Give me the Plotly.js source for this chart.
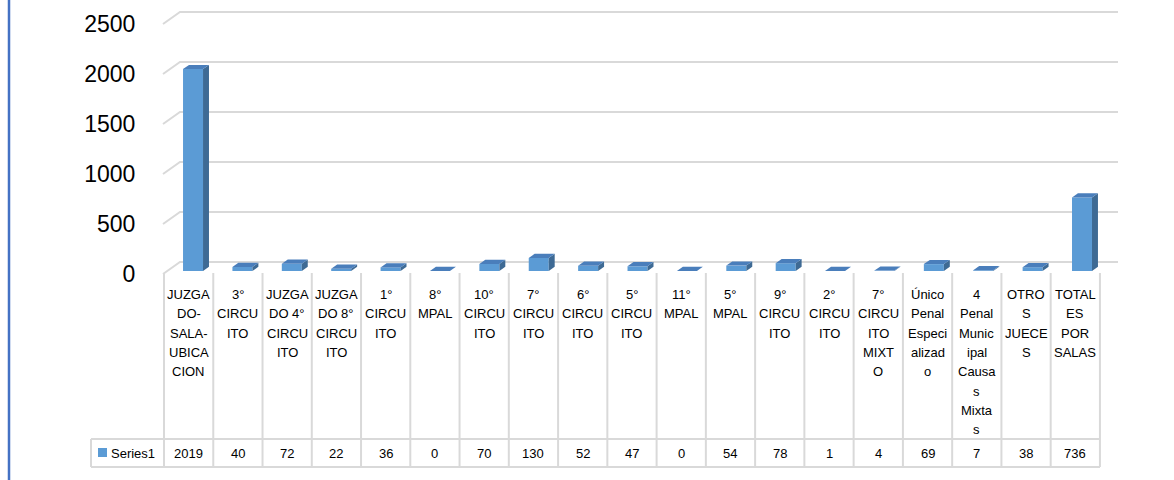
<!DOCTYPE html>
<html>
<head>
<meta charset="utf-8">
<script src="https://cdn.plot.ly/plotly-3.0.1.min.js"></script>
<style>html,body{margin:0;padding:0;background:#fff;}#chart{width:1174px;height:480px;}</style>
</head>
<body>
<div id="chart"></div>
<script>
// ---- data ----
const categories = [
  "JUZGA<br>DO-<br>SALA-<br>UBICA<br>CION",
  "3°<br>CIRCU<br>ITO",
  "JUZGA<br>DO 4°<br>CIRCU<br>ITO",
  "JUZGA<br>DO 8°<br>CIRCU<br>ITO",
  "1°<br>CIRCU<br>ITO",
  "8°<br>MPAL",
  "10°<br>CIRCU<br>ITO",
  "7°<br>CIRCU<br>ITO",
  "6°<br>CIRCU<br>ITO",
  "5°<br>CIRCU<br>ITO",
  "11°<br>MPAL",
  "5°<br>MPAL",
  "9°<br>CIRCU<br>ITO",
  "2°<br>CIRCU<br>ITO",
  "7°<br>CIRCU<br>ITO<br>MIXT<br>O",
  "Único<br>Penal<br>Especi<br>alizad<br>o",
  "4<br>Penal<br>Munic<br>ipal<br>Causa<br>s<br>Mixta<br>s",
  "OTRO<br>S<br>JUECE<br>S",
  "TOTAL<br>ES<br>POR<br>SALAS"
];
const values = [2019, 40, 72, 22, 36, 0, 70, 130, 52, 47, 0, 54, 78, 1, 4, 69, 7, 38, 736];
const seriesName = "Series1";
const yTicks = [0, 500, 1000, 1500, 2000, 2500];

// ---- geometry / style ----
const W = 1174, H = 480;
const ML = 80, MR = 40, MT = 5, MB = 5;
const plotW = W - ML - MR, plotH = H - MT - MB;
const COL_PX = 49.26;            // px per category
const COL0_LEFT = 164;           // px of first column left edge
const FLOOR_PX = 274;            // px of value 0 on front edge
const UNITS_PER_PX = 10;         // value units per px
const xMin = -0.5 - (COL0_LEFT - ML) / COL_PX;
const xMax = xMin + plotW / COL_PX;
const yMax = (FLOOR_PX - MT) * UNITS_PER_PX;
const yMin = yMax - plotH * UNITS_PER_PX;
const X = px => -0.5 + (px - COL0_LEFT) / COL_PX;          // px -> x data
const Y = py => (FLOOR_PX - py) * UNITS_PER_PX;            // px -> y data
const dX = px => px / COL_PX;
const dY = py => py * UNITS_PER_PX;
const PX = px => (px - ML) / plotW;                        // px -> paper x
const PY = py => (H - MB - py) / plotH;                    // px -> paper y

const WALL_DX = 17, WALL_DY = 12;      // depth of floor in px
const BAR_FRONT = 0.25, BAR_BACK = 0.6; // depth fractions
const BAR_W = 20;                       // px
const FRONT = '#5B9BD5', TOP = '#4A7EBB', SIDE = '#3E6A94';
const GRID = '#D9D9D9';
const FONT = 'Liberation Sans, Arial, sans-serif';

const n = values.length;
const idx = values.map((_, i) => i);
const barBase = dY(WALL_DY * BAR_FRONT);
const barShift = idx.map(i => (4.4 + 2.3 * i / (n - 1)));   // perspective shift px
const barOffset = barShift.map(s => dX(s) - dX(BAR_W) / 2);
const ddx = dX(WALL_DX * (BAR_BACK - BAR_FRONT));
const ddy = dY(WALL_DY * (BAR_BACK - BAR_FRONT));

const traces = [{
  type: 'bar', name: seriesName, x: idx, y: values, base: barBase,
  width: dX(BAR_W), offset: barOffset,
  marker: {color: FRONT, line: {width: 0}}, showlegend: false, hoverinfo: 'y'
}];

const shapes = [];
// back wall gridlines (below traces)
yTicks.forEach(t => {
  const x0 = X(163), x1 = X(163) + dX(WALL_DX), x2 = X(1118);
  const yb = t + dY(WALL_DY);
  shapes.push({type: 'path', xref: 'x', yref: 'y', layer: 'below',
    path: `M${x0},${t} L${x1},${yb} L${x2},${yb}`, line: {color: GRID, width: 2}});
});
// 3D sides & tops
values.forEach((v, i) => {
  const xl = i + barOffset[i], xr = xl + dX(BAR_W);
  const b = barBase, t = barBase + v;
  shapes.push({type: 'path', xref: 'x', yref: 'y', fillcolor: SIDE, line: {width: 0},
    path: `M${xr},${b} L${xr},${t} L${xr + ddx},${t + ddy} L${xr + ddx},${b + ddy} Z`});
  shapes.push({type: 'path', xref: 'x', yref: 'y', fillcolor: TOP, line: {width: 0},
    path: `M${xl},${t} L${xr},${t} L${xr + ddx},${t + ddy} L${xl + ddx},${t + ddy} Z`});
});
// data table lines
for (let k = 0; k <= n; k++) {
  shapes.push({type: 'line', xref: 'x', yref: 'y', x0: -0.5 + k, x1: -0.5 + k,
    y0: Y(273), y1: Y(467), line: {color: GRID, width: 2}});
}
[439, 467].forEach(py => {
  shapes.push({type: 'line', xref: 'x', yref: 'y', x0: X(91), x1: X(1100),
    y0: Y(py), y1: Y(py), line: {color: GRID, width: 2}});
});
shapes.push({type: 'line', xref: 'x', yref: 'y', x0: X(91), x1: X(91),
  y0: Y(439), y1: Y(467), line: {color: GRID, width: 2}});
// legend key
shapes.push({type: 'rect', xref: 'x', yref: 'y', x0: X(98), x1: X(107),
  y0: Y(448), y1: Y(457), fillcolor: FRONT, line: {width: 0}});
// left blue border
shapes.push({type: 'line', xref: 'paper', yref: 'paper', x0: PX(9), x1: PX(9),
  y0: PY(480), y1: PY(0), line: {color: '#4472C4', width: 2.5}});

const annotations = [];
categories.forEach((c, i) => {
  c.split('<br>').forEach((line, j) => {
    annotations.push({xref: 'x', yref: 'y', x: i, y: Y(294.5 + 19.3 * j), text: line,
      showarrow: false, xanchor: 'center', yanchor: 'middle',
      font: {family: FONT, size: 13, color: '#000'}});
  });
});
values.forEach((v, i) => {
  annotations.push({xref: 'x', yref: 'y', x: i, y: Y(453), text: String(v),
    showarrow: false, xanchor: 'center', yanchor: 'middle',
    font: {family: FONT, size: 13, color: '#000'}});
});
annotations.push({xref: 'x', yref: 'y', x: X(109), y: Y(453), text: seriesName,
  showarrow: false, xanchor: 'left', yanchor: 'middle',
  font: {family: FONT, size: 13, color: '#000'}});

const layout = {
  width: W, height: H,
  margin: {l: ML, r: MR, t: MT, b: MB, pad: 0},
  paper_bgcolor: '#fff', plot_bgcolor: 'rgba(0,0,0,0)',
  showlegend: false,
  xaxis: {range: [xMin, xMax], visible: false, fixedrange: true},
  yaxis: {range: [yMin, yMax], anchor: 'free', position: PX(143),
    tickvals: yTicks, ticktext: yTicks.map(String),
    showgrid: false, zeroline: false, showline: false,
    ticks: 'outside', ticklen: 3, tickcolor: 'rgba(0,0,0,0)',
    tickfont: {family: FONT, size: 23, color: '#000'}, fixedrange: true},
  shapes: shapes,
  annotations: annotations
};

Plotly.newPlot('chart', traces, layout, {displayModeBar: false, staticPlot: true});
</script>
</body>
</html>
